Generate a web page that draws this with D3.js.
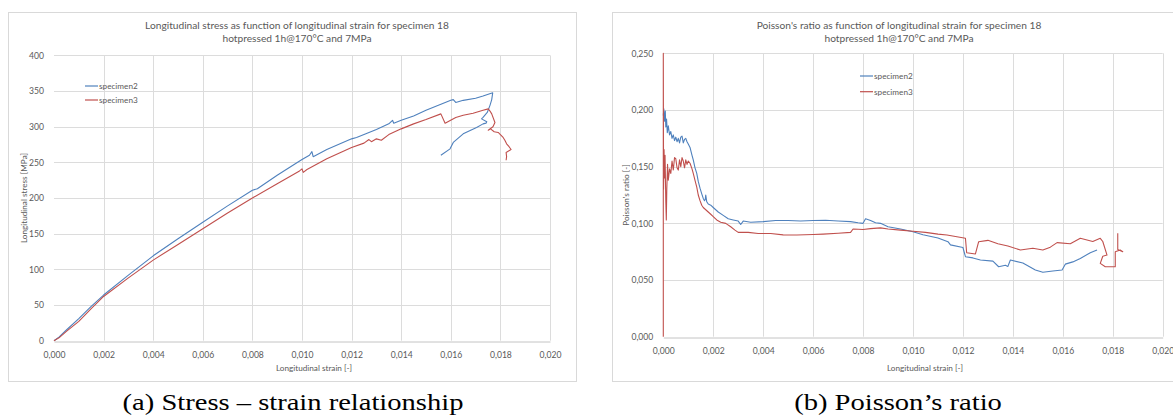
<!DOCTYPE html>
<html>
<head>
<meta charset="utf-8">
<script src="https://cdn.jsdelivr.net/npm/d3@7"></script>
<style>
  html, body { margin: 0; padding: 0; background: #fff; }
  svg { display: block; }
  text { font-family: Lato, "Open Sans", sans-serif; fill: #595959; }
  .caption { font-family: "Liberation Serif", "Times New Roman", serif; fill: #000; }
</style>
</head>
<body>
<svg id="fig" width="1173" height="416"></svg>
<script>
// ---- data -------------------------------------------------------------
const seriesNames = ["specimen2", "specimen3"];
const seriesColors = ["#4f81bd", "#c0504d"];

const strainTicks = [0, 0.002, 0.004, 0.006, 0.008, 0.010, 0.012, 0.014, 0.016, 0.018, 0.020];
const stressTicks = [0, 50, 100, 150, 200, 250, 300, 350, 400];
const ratioTicks = [0, 0.05, 0.10, 0.15, 0.20, 0.25];

// longitudinal stress [MPa] vs longitudinal strain [-]
const stressSpecimen2 = [
  [0,0],[0.0002,5],[0.0005,15],[0.001,31],[0.0015,48],[0.002,64],[0.003,92],[0.004,119],
  [0.005,143],[0.006,166],[0.007,189],[0.008,211],[0.0082,213],[0.009,232],[0.010,254],
  [0.0103,260],[0.0104,265],[0.01045,258],[0.011,268],[0.012,283],[0.0122,285],[0.0125,289],
  [0.013,296],[0.0135,304],[0.01365,309],[0.0137,305],[0.014,309],[0.0145,315],[0.015,323],
  [0.0155,330],[0.016,337],[0.0161,338],[0.0162,334],[0.0165,337],[0.017,340],[0.0173,343],
  [0.01769,347.5],[0.01765,338],[0.01758,330],[0.01747,320],[0.0173,313],[0.01724,311],
  [0.01745,307],[0.01742,305],[0.0173,304],[0.01704,299],[0.0165,290],[0.0161,278],
  [0.01597,269],[0.0156,260]
];
const stressSpecimen3 = [
  [0,0],[0.0002,4],[0.0005,13],[0.001,27],[0.0015,45],[0.002,62],[0.003,88],[0.004,113],
  [0.005,135],[0.006,157],[0.007,179],[0.008,200],[0.009,220],[0.0099,238],[0.0100,241],
  [0.01005,236],[0.0102,240],[0.011,255],[0.012,271],[0.0125,277],[0.0127,282],[0.0128,279],
  [0.013,283],[0.0132,281],[0.0135,289],[0.014,297],[0.0145,304],[0.015,310],[0.0156,318],
  [0.01577,305],[0.0162,313],[0.0165,316],[0.0169,319],[0.0173,323],[0.01751,325],
  [0.01758,322],[0.01765,318],[0.01778,306],[0.0177,300],[0.01751,295],[0.0176,297],
  [0.01775,293],[0.01791,292],[0.018,289],[0.01811,285],[0.01818,281],[0.01825,276],
  [0.01835,272],[0.01843,268],[0.01823,264],[0.01825,258],[0.01823,253]
];

// Poisson's ratio [-] vs longitudinal strain [-]
const ratioSpecimen2 = [
  [0,0.195],[0.00002,0.201],[0.00005,0.19],[0.00008,0.199],[0.0001,0.185],[0.00013,0.192],
  [0.00016,0.18],[0.0002,0.186],[0.00025,0.178],[0.0003,0.181],[0.00035,0.175],[0.0004,0.178],
  [0.00045,0.173],[0.0005,0.176],[0.00055,0.172],[0.0006,0.175],[0.00065,0.171],[0.0007,0.176],
  [0.00075,0.177],[0.0008,0.171],[0.00085,0.174],[0.0009,0.175],[0.00095,0.172],[0.001,0.17],
  [0.00107,0.167],[0.00115,0.16],[0.0012,0.156],[0.00127,0.149],[0.00134,0.144],[0.0014,0.137],
  [0.00147,0.131],[0.00154,0.126],[0.0016,0.122],[0.00165,0.12],[0.00168,0.121],[0.0017,0.125],
  [0.00174,0.119],[0.0018,0.117],[0.0019,0.116],[0.002,0.114],[0.0022,0.11],[0.0024,0.107],
  [0.0026,0.104],[0.0028,0.103],[0.003,0.102],[0.0031,0.099],[0.0032,0.102],[0.0035,0.101],
  [0.004,0.1015],[0.0045,0.1025],[0.005,0.1025],[0.0055,0.102],[0.006,0.1025],[0.0065,0.1027],
  [0.007,0.102],[0.0075,0.1015],[0.0078,0.1005],[0.008,0.1],[0.0081,0.104],[0.0083,0.1025],
  [0.0085,0.1005],[0.0087,0.1],[0.009,0.097],[0.0095,0.095],[0.01,0.0926],[0.0104,0.09],
  [0.011,0.087],[0.0114,0.0838],[0.0115,0.081],[0.012,0.0787],[0.0121,0.0706],[0.0124,0.0695],
  [0.0127,0.0677],[0.0132,0.0667],[0.01343,0.0617],[0.0137,0.063],[0.0138,0.062],[0.0139,0.0677],
  [0.0144,0.065],[0.0149,0.0588],[0.0152,0.0568],[0.0156,0.058],[0.01597,0.0588],[0.0161,0.064],
  [0.0164,0.066],[0.0167,0.069],[0.0171,0.0741],[0.01737,0.0765]
];
const ratioSpecimen3 = [
  [0,0],[0,0.25],[0.00001,0.13],[0.00003,0.165],[0.00005,0.14],[0.00007,0.16],[0.0001,0.12],
  [0.00012,0.103],[0.00014,0.13],[0.00017,0.152],[0.0002,0.138],[0.00025,0.148],[0.0003,0.144],
  [0.00035,0.155],[0.0004,0.147],[0.00045,0.158],[0.0005,0.157],[0.00055,0.149],[0.0006,0.147],
  [0.00065,0.156],[0.0007,0.15],[0.00075,0.158],[0.0008,0.155],[0.00085,0.149],[0.0009,0.156],
  [0.00095,0.152],[0.001,0.155],[0.00107,0.153],[0.00115,0.148],[0.0012,0.144],[0.00127,0.138],
  [0.00134,0.132],[0.0014,0.125],[0.00147,0.12],[0.00154,0.116],[0.0016,0.114],[0.0017,0.112],
  [0.0018,0.11],[0.0019,0.108],[0.002,0.106],[0.00214,0.103],[0.0023,0.101],[0.0025,0.1],
  [0.0027,0.097],[0.00287,0.094],[0.003,0.092],[0.0034,0.092],[0.0038,0.091],[0.0043,0.091],
  [0.0048,0.0898],[0.00535,0.0897],[0.006,0.0902],[0.0064,0.0905],[0.007,0.0912],[0.0075,0.092],
  [0.0076,0.095],[0.008,0.0945],[0.0083,0.0953],[0.0087,0.096],[0.009,0.095],[0.0095,0.094],
  [0.01,0.093],[0.0105,0.092],[0.011,0.0905],[0.01136,0.0897],[0.0121,0.0868],[0.01215,0.0741],
  [0.0125,0.073],[0.01263,0.0838],[0.013,0.085],[0.0134,0.082],[0.0138,0.08],[0.0143,0.0765],
  [0.0148,0.078],[0.0152,0.0765],[0.0155,0.079],[0.01577,0.083],[0.0163,0.082],[0.0167,0.0868],
  [0.0172,0.084],[0.0175,0.0868],[0.0176,0.084],[0.01777,0.072],[0.0176,0.071],[0.0175,0.0647],
  [0.0177,0.0617],[0.0181,0.0617],[0.0181,0.075],[0.0183,0.0765],[0.0184,0.075],[0.0182,0.077],
  [0.0182,0.0912]
];

// ---- drawing ----------------------------------------------------------
const svg = d3.select("#fig");
svg.append("rect").attr("width", 1173).attr("height", 416).attr("fill", "#fff");

const commaLocale = d3.formatLocale({ decimal: ",", thousands: ".", grouping: [3], currency: ["", ""] });
const fmt3 = commaLocale.format(".3f");
const fmt0 = commaLocale.format("d");

function drawPanel(p) {
  const g = svg.append("g");

  // chart frame
  g.append("rect")
    .attr("x", p.frame[0] + 0.5).attr("y", p.frame[1] + 0.5)
    .attr("width", p.frame[2]).attr("height", p.frame[3])
    .attr("fill", "#fff").attr("stroke", "#d9d9d9");

  const x = d3.scaleLinear().domain([0, 0.020]).range([p.plot.left, p.plot.right]);
  const y = d3.scaleLinear().domain(p.yDomain).range([p.plot.bottom, p.plot.top]);

  // gridlines
  g.append("g").selectAll("line").data(p.yTicks.slice(1)).join("line")
    .attr("x1", p.plot.left).attr("x2", p.plot.right)
    .attr("y1", d => Math.round(y(d)) + 0.5).attr("y2", d => Math.round(y(d)) + 0.5)
    .attr("stroke", "#dcdcdc");
  g.append("g").selectAll("line").data(strainTicks.slice(1)).join("line")
    .attr("x1", d => Math.round(x(d)) + 0.5).attr("x2", d => Math.round(x(d)) + 0.5)
    .attr("y1", p.plot.top).attr("y2", p.plot.bottom)
    .attr("stroke", "#dcdcdc");

  // x axis
  const xAxis = g.append("g")
    .attr("transform", `translate(0,${Math.round(p.plot.bottom) + 0.5})`)
    .call(d3.axisBottom(x).tickValues(strainTicks).tickFormat(fmt3).tickSize(0).tickPadding(10));
  xAxis.select(".domain").attr("stroke", "#c4c4c4");
  xAxis.selectAll("text").style("font-family", "Lato, sans-serif").attr("font-size", 8.6).attr("fill", "#7f7f7f");

  // y axis
  const yAxis = g.append("g")
    .attr("transform", `translate(${p.plot.left},0)`)
    .call(d3.axisLeft(y).tickValues(p.yTicks).tickFormat(p.yFormat).tickSize(0).tickPadding(p.yPad));
  yAxis.select(".domain").remove();
  yAxis.selectAll("text").style("font-family", "Lato, sans-serif").attr("font-size", 8.6).attr("fill", "#7f7f7f");

  // title
  g.append("g").selectAll("text").data(p.title).join("text")
    .attr("x", p.titleX).attr("y", (d, i) => 29 + i * 12.6)
    .attr("text-anchor", "middle").attr("font-size", 10.2).attr("fill", "#595959")
    .text(d => d);

  // axis titles
  g.append("text")
    .attr("transform", `translate(${p.yTitleX},${(p.plot.top + p.plot.bottom) / 2}) rotate(-90)`)
    .attr("text-anchor", "middle").attr("dy", "0.35em")
    .attr("font-size", 8.2).attr("fill", "#7f7f7f")
    .text(p.yTitle);
  g.append("text")
    .attr("x", p.xTitleX).attr("y", p.xTitleY)
    .attr("text-anchor", "middle").attr("dy", "0.35em")
    .attr("font-size", 8.2).attr("fill", "#7f7f7f")
    .text("Longitudinal strain [-]");

  // series
  const line = d3.line().x(d => x(d[0])).y(d => y(d[1]));
  g.append("g").selectAll("path").data(p.series).join("path")
    .attr("d", d => line(d))
    .attr("fill", "none")
    .attr("stroke", (d, i) => seriesColors[i])
    .attr("stroke-width", 1.1)
    .attr("stroke-linejoin", "round");

  // legend
  const lg = g.append("g").selectAll("g").data(seriesNames).join("g")
    .attr("transform", (d, i) => `translate(${p.legend[0]},${p.legend[1] + i * p.legend[2]})`);
  lg.append("line").attr("x1", 0).attr("x2", 13).attr("y1", 0).attr("y2", 0)
    .attr("stroke", (d, i) => seriesColors[i]).attr("stroke-width", 1.2);
  lg.append("text").attr("x", 14).attr("dy", "0.35em")
    .attr("font-size", 8.2).attr("fill", "#7f7f7f").text(d => d);

  // caption under the panel (slightly wide serif face)
  svg.append("text").attr("class", "caption")
    .attr("transform", `translate(${p.captionX},409.5) scale(1.19,1)`)
    .attr("text-anchor", "middle").attr("font-size", 24)
    .text(p.caption);
}

drawPanel({
  frame: [8, 12, 568, 369],
  plot: { left: 54, right: 550, top: 55.4, bottom: 340.7 },
  yDomain: [0, 400], yTicks: stressTicks, yFormat: fmt0, yPad: 10,
  title: ["Longitudinal stress as function of longitudinal strain for specimen 18",
          "hotpressed 1h@170°C and 7MPa"],
  titleX: 297,
  yTitle: "Longitudinal stress [MPa]", yTitleX: 24,
  xTitleX: 314, xTitleY: 368,
  series: [stressSpecimen2, stressSpecimen3],
  legend: [85, 86, 14],
  caption: "(a) Stress – strain relationship", captionX: 293
});

drawPanel({
  frame: [612, 12, 580, 369],
  plot: { left: 663.3, right: 1162.7, top: 53.3, bottom: 336.7 },
  yDomain: [0, 0.25], yTicks: ratioTicks, yFormat: fmt3, yPad: 10,
  title: ["Poisson's ratio as function of longitudinal strain for specimen 18",
          "hotpressed 1h@170°C and 7MPa"],
  titleX: 899,
  yTitle: "Poisson's ratio [-]", yTitleX: 626,
  xTitleX: 925, xTitleY: 368,
  series: [ratioSpecimen2, ratioSpecimen3],
  legend: [860, 76, 15.7],
  caption: "(b) Poisson’s ratio", captionX: 898
});
</script>
</body>
</html>
